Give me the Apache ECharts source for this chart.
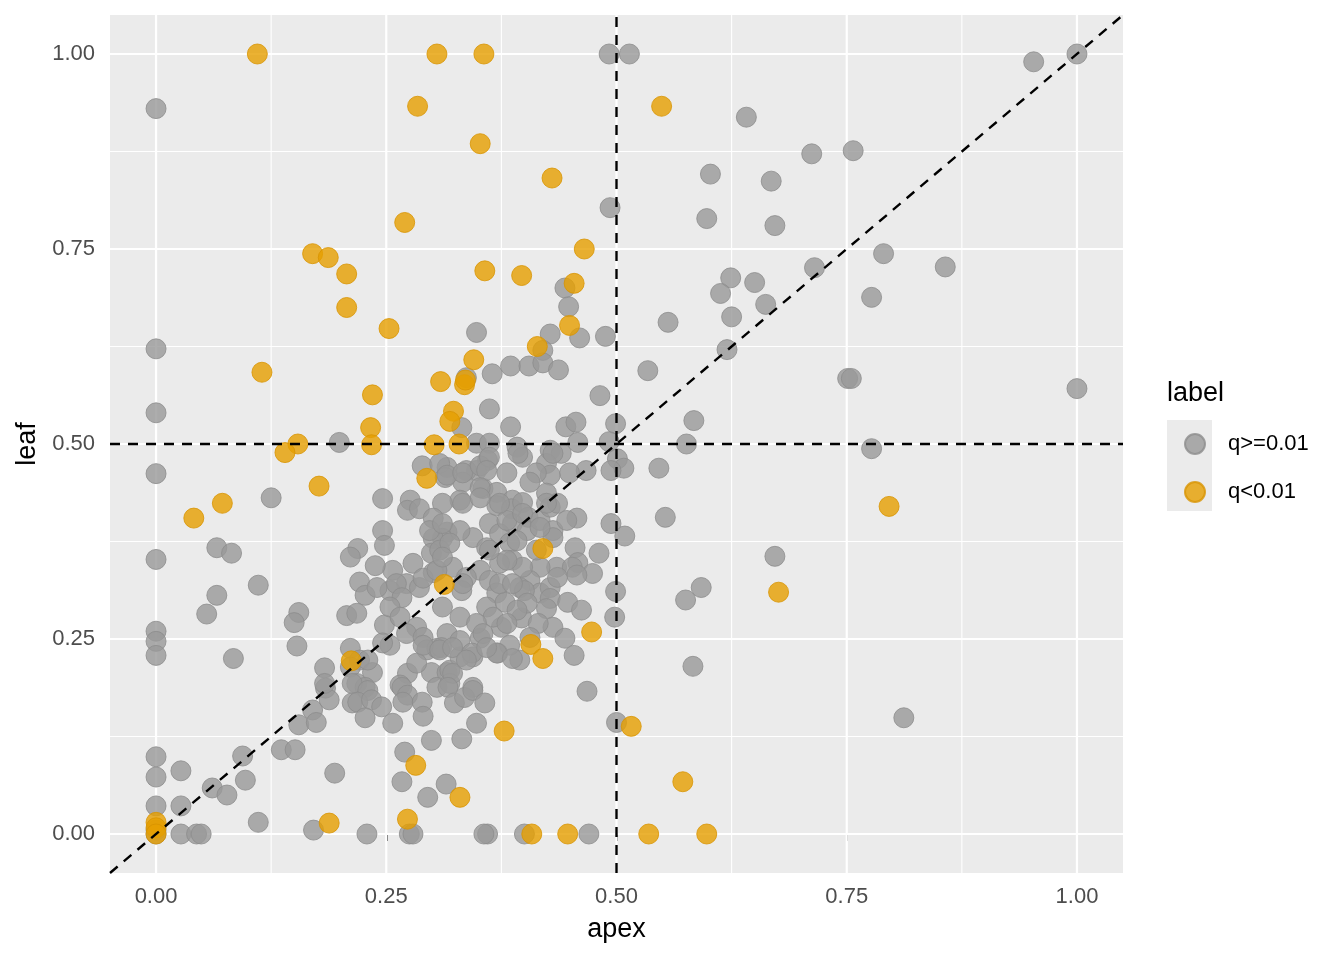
<!DOCTYPE html>
<html lang="en">
<head>
    <meta http-equiv="Content-Type" content="text/html; charset=utf-8"/>
    <title>apex vs leaf</title>
    <script type="text/javascript" src="https://cdn.jsdelivr.net/npm/echarts@6/dist/echarts.min.js"></script>
    <style>
        html, body { margin: 0; height: 100%; background: #ffffff; }
        #container { width: 1344px; height: 960px; }
    </style>
</head>
<body>
<div id="container"></div>
<script type="text/javascript">
    // axis ticks / limits (ggplot expands 0..1 by 5%)
    var tickValues = [0, 0.25, 0.5, 0.75, 1];
    var minorValues = [0.125, 0.375, 0.625, 0.875];
    var axisRange = [-0.05, 1.05];
    var cutoff = 0.5;
    var labelNames = ['q>=0.01', 'q<0.01'];

    // q>=0.01  [apex, leaf]
    var greyPoints = [
        [0,0.930],[0,0.622],[0,0.540],[0,0.462],[0,0.352],[0,0.260],[0,0.247],[0,0.229],[0,0.099],[0,0.073],[0,0.036],[0,0.005],[0,0],
        [0.027,0.081],[0.027,0.036],[0.027,0],[0.044,0],[0.049,0],[0.061,0.059],[0.077,0.050],[0.097,0.069],[0.094,0.100],[0.111,0.015],
        [0.084,0.225],[0.055,0.282],[0.066,0.306],[0.066,0.367],[0.082,0.360],[0.111,0.319],[0.125,0.431],[0.136,0.108],[0.151,0.108],
        [0.199,0.502],[0.155,0.284],[0.150,0.271],[0.153,0.241],[0.155,0.140],[0.170,0.159],[0.174,0.143],[0.183,0.213],[0.184,0.187],
        [0.188,0.172],[0.194,0.078],[0.171,0.005],[0.229,0],[0.275,0],[0.279,0],[0.360,0],[0.356,0],[0.400,0],[0.470,0],
        [0.492,1.0],[0.514,1.0],[0.493,0.803],[0.953,0.990],[1,1],[0.641,0.919],[0.712,0.872],[0.757,0.876],[0.602,0.846],[0.668,0.837],
        [0.598,0.789],[0.672,0.780],[0.790,0.744],[0.857,0.727],[0.715,0.726],[0.624,0.713],[0.650,0.707],[0.613,0.693],[0.662,0.679],
        [0.625,0.663],[0.777,0.688],[0.556,0.656],[0.620,0.621],[0.488,0.638],[0.534,0.594],[0.751,0.584],[0.755,0.584],[1.0,0.571],
        [0.482,0.562],[0.499,0.526],[0.584,0.530],[0.576,0.500],[0.777,0.494],[0.492,0.503],[0.501,0.481],[0.508,0.469],[0.494,0.466],
        [0.546,0.469],[0.553,0.406],[0.494,0.398],[0.509,0.382],[0.481,0.360],[0.672,0.356],[0.499,0.311],[0.498,0.278],[0.592,0.316],
        [0.575,0.300],[0.583,0.215],[0.812,0.149],[0.500,0.143],[0.468,0.183],[0.444,0.700],
        [0.448,0.676],[0.348,0.643],[0.428,0.641],[0.460,0.636],[0.420,0.620],[0.337,0.585],[0.365,0.590],[0.385,0.600],[0.405,0.600],
        [0.420,0.604],[0.437,0.595],[0.362,0.545],[0.385,0.522],[0.332,0.521],[0.445,0.522],[0.456,0.528],[0.458,0.502],[0.348,0.501],
        [0.362,0.501],[0.392,0.496],[0.398,0.483],[0.428,0.492],[0.440,0.488],[0.467,0.466],[0.449,0.463],[0.424,0.475],[0.428,0.460],
        [0.413,0.463],[0.360,0.479],[0.348,0.466],[0.337,0.466],[0.316,0.470],[0.381,0.463],[0.406,0.451],[0.355,0.443],[0.370,0.438],
        [0.333,0.451],[0.424,0.437],[0.387,0.428],[0.330,0.428],
        [0.289,0.472],[0.308,0.475],[0.314,0.457],[0.246,0.430],[0.276,0.428],
        [0.316,0.460],[0.333,0.463],[0.352,0.472],[0.362,0.483],[0.359,0.466],[0.393,0.488],[0.352,0.444],[0.431,0.488],
        [0.273,0.415],[0.286,0.417],[0.311,0.424],[0.333,0.424],[0.301,0.405],[0.316,0.387],[0.311,0.379],[0.301,0.379],[0.246,0.389],
        [0.248,0.370],[0.279,0.347],[0.299,0.360],[0.301,0.335],[0.322,0.342],[0.344,0.380],[0.362,0.398],[0.370,0.421],[0.386,0.417],
        [0.398,0.425],[0.404,0.406],[0.387,0.398],[0.373,0.385],[0.359,0.367],[0.384,0.373],[0.403,0.389],[0.417,0.402],[0.428,0.419],
        [0.431,0.389],[0.435,0.342],[0.417,0.342],[0.406,0.325],[0.387,0.351],[0.373,0.347],[0.352,0.338],[0.337,0.329],[0.332,0.312],
        [0.362,0.325],[0.370,0.309],[0.395,0.316],[0.417,0.309],[0.428,0.316],[0.257,0.338],[0.272,0.321],[0.286,0.316],[0.254,0.312],
        [0.219,0.366],[0.211,0.355],[0.238,0.344],[0.221,0.323],[0.227,0.306],[0.240,0.316],[0.261,0.321],[0.267,0.303],[0.290,0.328],
        [0.305,0.338],[0.308,0.364],[0.297,0.389],[0.207,0.280],[0.218,0.283],[0.248,0.268],[0.254,0.291],[0.265,0.278],[0.283,0.265],
        [0.272,0.257],[0.290,0.252],[0.294,0.236],[0.305,0.238],[0.254,0.242],[0.246,0.245],[0.211,0.238],[0.221,0.223],[0.235,0.207],
        [0.211,0.214],[0.183,0.193],[0.218,0.193],[0.227,0.188],[0.273,0.206],[0.265,0.191],[0.299,0.207],[0.316,0.207],[0.305,0.188],
        [0.283,0.219],
        [0.457,0.405],[0.446,0.402],[0.436,0.424],[0.424,0.424],[0.431,0.380],[0.455,0.367],[0.458,0.348],[0.452,0.342],[0.474,0.334],
        [0.436,0.329],[0.457,0.332],[0.428,0.302],[0.447,0.297],[0.462,0.287],[0.424,0.289],[0.431,0.265],[0.444,0.251],[0.454,0.229],
        [0.397,0.277],[0.415,0.270],[0.375,0.265],[0.395,0.223],[0.371,0.232],[0.384,0.242],[0.352,0.251],[0.344,0.227],[0.344,0.188],
        [0.319,0.210],[0.330,0.227],[0.316,0.257],[0.330,0.278],[0.359,0.291],[0.379,0.297],[0.400,0.312],[0.398,0.342],[0.381,0.351],
        [0.413,0.364],[0.392,0.376],[0.362,0.364],[0.330,0.389],[0.319,0.373],[0.381,0.402],[0.398,0.411],[0.417,0.393],[0.373,0.424],
        [0.352,0.431],[0.311,0.398],[0.311,0.355],[0.311,0.291],[0.333,0.321],[0.373,0.321],[0.387,0.321],[0.403,0.296],[0.392,0.287],
        [0.366,0.278],[0.348,0.270],[0.330,0.248],[0.355,0.257],[0.406,0.252],[0.381,0.270],[0.310,0.239],[0.319,0.193],
        [0.230,0.223],[0.213,0.193],[0.230,0.184],[0.213,0.168],[0.219,0.169],[0.234,0.172],[0.245,0.163],[0.227,0.149],[0.257,0.142],
        [0.267,0.188],[0.273,0.178],[0.268,0.169],[0.289,0.169],[0.290,0.151],[0.322,0.206],[0.317,0.188],[0.324,0.168],[0.335,0.175],
        [0.344,0.184],[0.357,0.168],[0.348,0.142],[0.299,0.120],[0.332,0.122],[0.270,0.105],[0.267,0.067],[0.295,0.047],[0.315,0.064],
        [0.290,0.242],[0.308,0.236],[0.322,0.239],[0.343,0.232],[0.337,0.223],[0.370,0.232],[0.387,0.225],[0.359,0.239]
    ];

    // q<0.01  [apex, leaf]
    var orangePoints = [
        [0.110,1.0],[0.305,1.0],[0.356,1.0],[0.284,0.933],[0.549,0.933],[0.352,0.885],[0.430,0.841],[0.270,0.784],[0.170,0.744],
        [0.187,0.739],[0.207,0.718],[0.357,0.722],[0.465,0.750],[0.397,0.716],[0.454,0.706],[0.207,0.675],[0.253,0.648],[0.449,0.652],
        [0.414,0.625],[0.345,0.608],[0.115,0.592],[0.309,0.580],[0.335,0.576],[0.336,0.582],[0.235,0.563],[0.323,0.542],[0.319,0.529],
        [0.233,0.521],[0.154,0.500],[0.140,0.489],[0.234,0.499],[0.302,0.499],[0.329,0.500],[0.294,0.456],[0.177,0.446],[0.072,0.424],
        [0.041,0.405],[0.796,0.420],[0.420,0.366],[0.313,0.320],[0.676,0.310],[0.473,0.259],[0.407,0.243],[0.420,0.225],[0.212,0.222],
        [0.378,0.132],[0.516,0.138],[0.282,0.088],[0.330,0.047],[0.572,0.067],[0.188,0.014],[0.273,0.019],[0.408,0],[0.447,0],
        [0.535,0],[0.598,0],[0,0.015],[0,0.008],[0,0]
    ];

    var fontFamily = '"Liberation Sans", Arial, Helvetica, sans-serif';

    var dom = document.getElementById("container");
    var myChart = echarts.init(dom);

    // panel grid lines drawn as plain line series so they sit under the points
    var series = [];
    function addLine(pts, width, color, z, dash) {
        series.push({
            type: 'line',
            data: pts,
            symbol: 'none',
            silent: true,
            z: z,
            animation: false,
            lineStyle: { color: color, width: width, type: dash || 'solid' }
        });
    }
    minorValues.forEach(function (v) {
        addLine([[v, axisRange[0]], [v, axisRange[1]]], 1.1, '#ffffff', 1);
        addLine([[axisRange[0], v], [axisRange[1], v]], 1.1, '#ffffff', 1);
    });
    tickValues.forEach(function (v) {
        addLine([[v, axisRange[0]], [v, axisRange[1]]], 2.2, '#ffffff', 1);
        addLine([[axisRange[0], v], [axisRange[1], v]], 2.2, '#ffffff', 1);
    });

    series.push({
        name: labelNames[0],
        type: 'scatter',
        data: greyPoints,
        symbolSize: 20,
        z: 2,
        animation: false,
        itemStyle: { color: '#999999', opacity: 0.8, borderColor: '#8c8c8c', borderWidth: 1 }
    });
    series.push({
        name: labelNames[1],
        type: 'scatter',
        data: orangePoints,
        symbolSize: 20,
        z: 3,
        animation: false,
        itemStyle: { color: '#E69F00', opacity: 0.8, borderColor: '#d89400', borderWidth: 1 }
    });

    // dashed reference lines on top
    addLine([[cutoff, axisRange[0]], [cutoff, axisRange[1]]], 2.4, '#000000', 5, [10, 8]);
    addLine([[axisRange[0], cutoff], [axisRange[1], cutoff]], 2.4, '#000000', 5, [10, 8]);
    addLine([[axisRange[0], axisRange[0]], [axisRange[1], axisRange[1]]], 2.4, '#000000', 5, [10, 8]);

    function fmt(v) { return v.toFixed(2); }

    var option = {
        backgroundColor: '#ffffff',
        textStyle: { fontFamily: fontFamily },
        grid: {
            left: 110, right: 221, top: 15, bottom: 87,
            show: true, backgroundColor: '#EBEBEB', borderWidth: 0
        },
        xAxis: {
            type: 'value',
            min: axisRange[0], max: axisRange[1],
            name: 'apex',
            nameLocation: 'middle',
            nameGap: 43,
            nameTextStyle: { color: '#000000', fontSize: 27, fontFamily: fontFamily },
            axisLine: { show: false },
            splitLine: { show: false },
            axisTick: { show: true, customValues: tickValues, length: 7, lineStyle: { color: '#333333', width: 1.8 } },
            axisLabel: { customValues: tickValues, formatter: fmt, color: '#4D4D4D', fontSize: 22, margin: 13, fontFamily: fontFamily }
        },
        yAxis: {
            type: 'value',
            min: axisRange[0], max: axisRange[1],
            name: 'leaf',
            nameLocation: 'middle',
            nameGap: 68,
            nameTextStyle: { color: '#000000', fontSize: 27, fontFamily: fontFamily },
            axisLine: { show: false },
            splitLine: { show: false },
            axisTick: { show: true, customValues: tickValues, length: 7, lineStyle: { color: '#333333', width: 1.8 } },
            axisLabel: { customValues: tickValues, formatter: fmt, color: '#4D4D4D', fontSize: 22, margin: 15, fontFamily: fontFamily }
        },
        legend: {
            data: labelNames,
            orient: 'vertical',
            left: 1179,
            top: 428,
            itemWidth: 20,
            itemHeight: 20,
            itemGap: 26,
            icon: 'circle',
            selectedMode: false,
            textStyle: { color: '#000000', fontSize: 22, fontFamily: fontFamily, padding: [0, 0, 0, 18] }
        },
        graphic: [
            { type: 'rect', left: 1167, top: 420, shape: { width: 45, height: 91 }, style: { fill: '#EBEBEB' }, z: -1 },
            { type: 'text', left: 1167, top: 380, style: { text: 'label', fill: '#000000', fontSize: 27, fontFamily: fontFamily } }
        ],
        series: series
    };
    if (option && typeof option === "object") {
        myChart.setOption(option, true);
    }
</script>
</body>
</html>
